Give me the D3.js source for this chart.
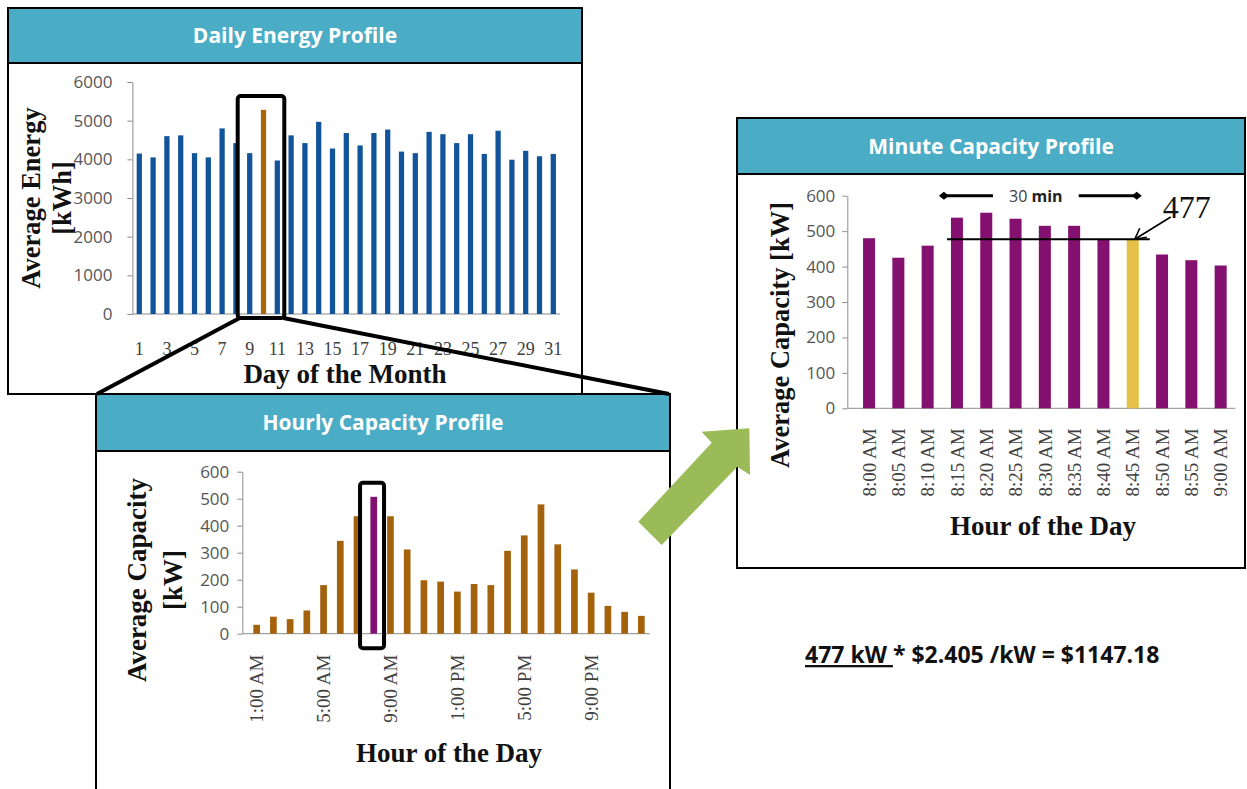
<!DOCTYPE html>
<html>
<head>
<meta charset="utf-8">
<script src="https://cdn.jsdelivr.net/npm/d3@7"></script>
<style>
body{margin:0;background:#fff}
svg{display:block}
</style>
</head>
<body>
<div id="chart"></div>
<script>
// --- data ---
var days = [1,2,3,4,5,6,7,8,9,10,11,12,13,14,15,16,17,18,19,20,21,22,23,24,25,26,27,28,29,30,31];
var dayTicks = [1,3,5,7,9,11,13,15,17,19,21,23,25,27,29,31];
var dailyEnergy = [4150,4050,4600,4620,4160,4050,4800,4420,4160,5280,3970,4620,4420,4970,4280,
                   4680,4360,4680,4770,4200,4160,4710,4650,4420,4650,4140,4740,3990,4220,4080,4140];
var energyTicks = [0,1000,2000,3000,4000,5000,6000];

var hours = ["1:00 AM","2:00 AM","3:00 AM","4:00 AM","5:00 AM","6:00 AM","7:00 AM","8:00 AM",
             "9:00 AM","10:00 AM","11:00 AM","12:00 PM","1:00 PM","2:00 PM","3:00 PM","4:00 PM",
             "5:00 PM","6:00 PM","7:00 PM","8:00 PM","9:00 PM","10:00 PM","11:00 PM","12:00 AM"];
var hourTicks = ["1:00 AM","5:00 AM","9:00 AM","1:00 PM","5:00 PM","9:00 PM"];
var hourlyCapacity = [33,63,54,86,180,344,435,507,435,312,198,193,156,184,180,307,364,479,331,238,152,103,81,66];

var minutes = ["8:00 AM","8:05 AM","8:10 AM","8:15 AM","8:20 AM","8:25 AM","8:30 AM",
               "8:35 AM","8:40 AM","8:45 AM","8:50 AM","8:55 AM","9:00 AM"];
var minuteCapacity = [480,425,459,538,552,535,515,515,478,477,434,418,403];
var capTicks = [0,100,200,300,400,500,600];

var peakDay = 10, peakHour = "8:00 AM", peakMinute = "8:45 AM";
var demand = 477;

var svg = d3.select("#chart").append("svg").attr("width",1247).attr("height",789);
svg.append("rect").attr("width",1247).attr("height",789).attr("fill","#fff");

var SANS = "'Open Sans', 'Liberation Sans', sans-serif";
var SERIF = "'Liberation Serif', 'DejaVu Serif', serif";
var TITLE = "'Open Sans', 'Liberation Sans', sans-serif";

function panel(x0,y0,x1,y1,yb,title){
  var g = svg.append("g");
  g.append("rect").attr("x",x0).attr("y",y0).attr("width",x1-x0).attr("height",y1-y0)
    .attr("fill","#fff").attr("stroke","#000").attr("stroke-width",2);
  g.append("rect").attr("x",x0).attr("y",y0).attr("width",x1-x0).attr("height",yb-y0)
    .attr("fill","#4bacc6").attr("stroke","#000").attr("stroke-width",2);
  g.append("text").attr("x",(x0+x1)/2).attr("y",(y0+yb)/2+7.5)
    .attr("text-anchor","middle").attr("fill","#fff")
    .attr("font-family",TITLE).attr("font-weight","bold").attr("font-size",21)
    .text(title);
}

function barChart(o){
  var x = d3.scaleBand().domain(o.cats).range(o.xr).paddingInner(o.pad).paddingOuter(o.pad/2);
  var y = d3.scaleLinear().domain([0,o.max]).range([o.base,o.top]);
  var g = svg.append("g");

  var ya = g.append("g").attr("transform","translate("+o.ax+",0)")
    .call(d3.axisLeft(y).tickValues(o.yticks).tickFormat(d3.format("d"))
      .tickSize(5).tickSizeOuter(0).tickPadding(o.tp));
  ya.select(".domain").attr("stroke","#8c8c8c");
  ya.selectAll(".tick line").attr("stroke","#8c8c8c");
  ya.selectAll(".tick text").attr("font-family",SANS).attr("font-size",17).attr("fill","#555");

  g.append("line").attr("x1",o.ax).attr("x2",o.xr[1]).attr("y1",y(0)).attr("y2",y(0))
    .attr("stroke","#8c8c8c");

  g.selectAll("rect.bar").data(o.vals).join("rect").attr("class","bar")
    .attr("x",function(d,i){return x(o.cats[i]);})
    .attr("width",x.bandwidth())
    .attr("y",function(d){return y(d);})
    .attr("height",function(d){return y(0)-y(d);})
    .attr("fill",function(d,i){return o.cats[i]===o.hi ? o.hiColor : o.color;});

  var xa = g.append("g").attr("transform","translate(0,"+y(0)+")")
    .call(d3.axisBottom(x).tickValues(o.xticks).tickSize(0).tickPadding(o.xp));
  xa.select(".domain").remove();
  xa.selectAll(".tick text").attr("font-family",SERIF).attr("font-size",o.xfs).attr("fill","#404040");
  if(o.rotate){
    xa.selectAll(".tick text").attr("transform","rotate(-90)")
      .attr("x",-o.xp).attr("y",0).attr("dy","0.35em").attr("text-anchor","end");
  }

  g.append("text").attr("x",o.xtitle[0]).attr("y",o.xtitle[1]).attr("text-anchor","middle")
    .attr("font-family",SERIF).attr("font-weight","bold").attr("font-size",27).attr("fill","#111")
    .text(o.xlabel);
  return {x:x,y:y,g:g};
}

function yTitle(lines,xs,cy,fs){
  lines.forEach(function(t,i){
    svg.append("text").attr("transform","translate("+xs[i]+","+cy+") rotate(-90)")
      .attr("dy","0.35em").attr("text-anchor","middle")
      .attr("font-family",SERIF).attr("font-weight","bold").attr("font-size",fs).attr("fill","#111")
      .text(t);
  });
}

// ---------- daily panel ----------
panel(8,8,582,394,63,"Daily Energy Profile");
var daily = barChart({cats:days, vals:dailyEnergy, xr:[132.4,560.2], pad:0.62, max:6000,
  base:314, top:82, ax:132.4, tp:15, yticks:energyTicks, xticks:dayTicks, xp:28, xfs:18,
  color:"#11549a", hi:peakDay, hiColor:"#a5670f", xtitle:[345,383], xlabel:"Day of the Month"});
yTitle(["Average Energy","[kWh]"],[31,62],198,26.5);

// ---------- hourly panel ----------
panel(96,394,670,800,451,"Hourly Capacity Profile");
var hourly = barChart({cats:hours, vals:hourlyCapacity, xr:[248.3,649.7], pad:0.6, max:600,
  base:633.7, top:471.7, ax:242.3, tp:8, yticks:capTicks, xticks:hourTicks, xp:21, xfs:19, rotate:true,
  color:"#a3620b", hi:peakHour, hiColor:"#84106f", xtitle:[449,762], xlabel:"Hour of the Day"});
yTitle(["Average Capacity","[kW]"],[137,173],580,27);

// zoom lines from the daily selection to the hourly panel
var dbw = daily.x.bandwidth();
var selL = daily.x(9)+dbw/2-12, selR = daily.x(11)+dbw/2+7, selB = daily.y(0)+4;
svg.append("line").attr("x1",selL+2).attr("y1",selB).attr("x2",97).attr("y2",394)
  .attr("stroke","#000").attr("stroke-width",4);
svg.append("line").attr("x1",selR-1).attr("y1",selB).attr("x2",669).attr("y2",394)
  .attr("stroke","#000").attr("stroke-width",4);
svg.append("rect").attr("x",selL).attr("y",daily.y(5640)).attr("width",selR-selL)
  .attr("height",selB-daily.y(5640)).attr("rx",3)
  .attr("fill","none").attr("stroke","#000").attr("stroke-width",4);

var hbw = hourly.x.bandwidth();
var hc = hourly.x(peakHour)+hbw/2;
svg.append("rect").attr("x",hc-13.7).attr("y",hourly.y(559)).attr("width",24)
  .attr("height",hourly.y(0)+14.5-hourly.y(559)).attr("rx",3)
  .attr("fill","none").attr("stroke","#000").attr("stroke-width",4);

// ---------- minute panel ----------
panel(737,118,1245,568,174,"Minute Capacity Profile");
var minute = barChart({cats:minutes, vals:minuteCapacity, xr:[854.4,1235.3], pad:0.59, max:600,
  base:408.3, top:195.7, ax:847.3, tp:7, yticks:capTicks, xticks:minutes, xp:20, xfs:19, rotate:true,
  color:"#84106f", hi:peakMinute, hiColor:"#e4c048", xtitle:[1043,535], xlabel:"Hour of the Day"});
yTitle(["Average Capacity [kW]"],[780],335,26.5);

var mbw = minute.x.bandwidth();
var m15 = minute.x("8:15 AM")+mbw/2, m45 = minute.x(peakMinute)+mbw/2;
// 30 min span marker
var dimY = minute.y(600);
var ann = svg.append("g");
ann.append("line").attr("x1",m15-13).attr("x2",m15+36).attr("y1",dimY).attr("y2",dimY)
  .attr("stroke","#000").attr("stroke-width",3);
ann.append("line").attr("x1",m45-54).attr("x2",m45+4).attr("y1",dimY).attr("y2",dimY)
  .attr("stroke","#000").attr("stroke-width",3);
[m15-13,m45+4].forEach(function(cx){
  ann.append("path").attr("d","M"+(cx-5)+","+dimY+"L"+cx+","+(dimY-4)+"L"+(cx+5)+","+dimY+"L"+cx+","+(dimY+4)+"Z")
    .attr("fill","#000");
});
var t30 = ann.append("text").attr("x",(m15+36+m45-54)/2).attr("y",dimY+6).attr("text-anchor","middle")
  .attr("font-family",SANS).attr("font-size",16);
t30.append("tspan").attr("fill","#404040").text("30 ");
t30.append("tspan").attr("fill","#222").attr("font-weight","bold").text("min");

// 30-minute average line
ann.append("line").attr("x1",m15-10).attr("x2",m45+17).attr("y1",minute.y(demand)).attr("y2",minute.y(demand))
  .attr("stroke","#000").attr("stroke-width",2);
ann.append("text").attr("x",m45+30).attr("y",218).attr("font-family",SERIF).attr("font-size",32)
  .attr("fill","#111").text(demand);
var tipX = m45+2, tipY = minute.y(demand);
ann.append("line").attr("x1",m45+38).attr("y1",217).attr("x2",tipX).attr("y2",tipY)
  .attr("stroke","#000").attr("stroke-width",1.6);
ann.append("path").attr("d","M"+(tipX+12)+","+(tipY-2)+"L"+tipX+","+tipY+"L"+(tipX+5)+","+(tipY-11))
  .attr("fill","none").attr("stroke","#000").attr("stroke-width",1.6);

// green arrow from hourly to minute panel
svg.append("path")
  .attr("d","M638.3,521.7 L711.7,442.7 L701.7,431.7 L749.3,428.3 L750,475 L737.3,466.7 L661.7,545 Z")
  .attr("fill","#9bbb59");

// demand charge formula
var f = svg.append("text").attr("x",805).attr("y",663).attr("font-family",TITLE)
  .attr("font-weight","bold").attr("font-size",23).attr("fill","#111").style("white-space","pre");
f.append("tspan").attr("text-decoration","underline").text(demand+" kW ");
f.append("tspan").text("* $2.405 /kW = $1147.18");
</script>
</body>
</html>
